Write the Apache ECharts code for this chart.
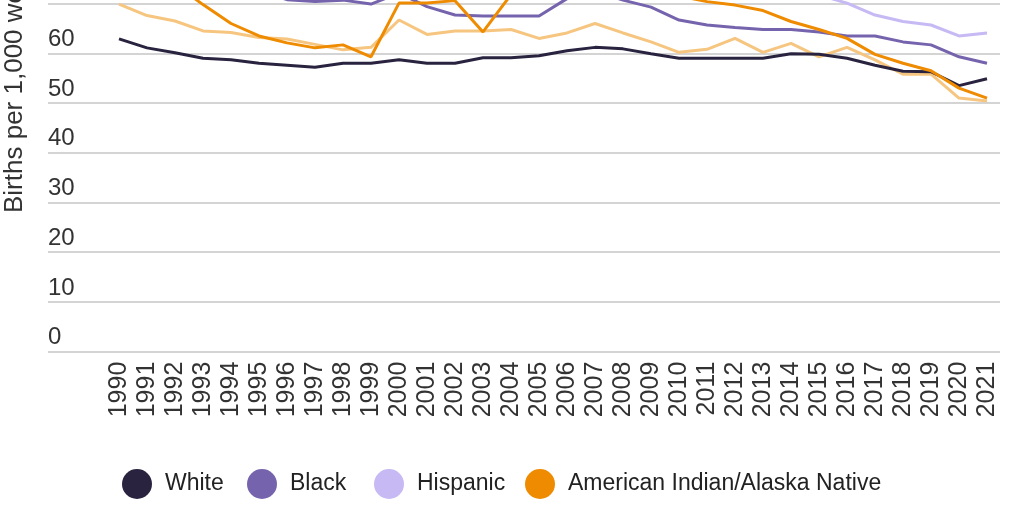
<!DOCTYPE html>
<html>
<head>
<meta charset="utf-8">
<script src="https://cdn.jsdelivr.net/npm/echarts@6/dist/echarts.min.js"></script>
<style>
html,body{margin:0;padding:0;background:#fff;width:1024px;height:512px;overflow:hidden;position:relative;}
#c{position:absolute;left:0;top:-200px;width:1024px;height:712px;}
</style>
</head>
<body>
<div id="c"></div>
<script>
const years = ['1990','1991','1992','1993','1994','1995','1996','1997','1998','1999','2000','2001','2002','2003','2004','2005','2006','2007','2008','2009','2010','2011','2012','2013','2014','2015','2016','2017','2018','2019','2020','2021'];
const white = [62.9,61.1,60.1,59.0,58.7,58.0,57.6,57.2,58.0,58.0,58.7,58.0,58.0,59.1,59.1,59.5,60.5,61.2,60.9,59.9,59.0,59.0,59.0,59.0,59.9,59.8,59.0,57.6,56.4,56.3,53.5,54.9];
const black = [86.8,85.2,82.4,79.1,75.6,72.4,70.8,70.4,70.7,69.9,72.1,69.4,67.7,67.5,67.5,67.5,71.0,72.5,70.7,69.3,66.7,65.7,65.2,64.8,64.8,64.3,63.5,63.5,62.3,61.7,59.3,58.0];
const hispanic = [107.7,108.1,106.1,103.3,100.7,98.8,97.5,97.7,98.4,99.4,95.9,97.6,94.4,96.9,97.8,99.4,101.5,102.2,98.8,93.3,80.2,76.2,74.4,72.9,72.1,71.7,70.1,67.7,66.4,65.7,63.5,64.1];
const aian = [76.2,75.1,73.9,69.8,66.0,63.5,62.1,61.1,61.7,59.3,70.1,70.1,70.6,64.3,71.8,72.4,73.8,74.6,73.2,72.6,71.5,70.4,69.7,68.6,66.4,64.8,63.0,59.8,58.0,56.5,53.0,51.0];
const asianPI = [69.9,67.6,66.5,64.5,64.2,63.2,62.9,61.8,60.7,61.2,66.7,63.8,64.5,64.5,64.8,63.0,64.1,66.0,64.1,62.3,60.2,60.8,63.0,60.2,62.0,59.3,61.2,58.7,55.8,55.8,51.0,50.4];
const yTitle = 'Births per 1,000 women ages 15–44';

const colors = {
  'White': '#29233f',
  'Black': '#7564ad',
  'Hispanic': '#c6b9f4',
  'American Indian/Alaska Native': '#ee8b00',
  'Asian/Pacific Islander': '#f6c680'
};
const FONT = '"Liberation Sans", Arial, sans-serif';
const OFF = 200; // container is shifted up by this many px
const chart = echarts.init(document.getElementById('c'), null, {renderer: 'canvas'});
const gridTop = OFF - 195.3, gridBottom = 160.3;
function mkSeries(name, data, z) {
  return {
    name: name, type: 'line', data: data, xAxisIndex: 1, yAxisIndex: 1,
    symbol: 'none', z: z,
    lineStyle: {color: colors[name], width: 3},
    itemStyle: {color: colors[name]}
  };
}
function mkLegend(name, left) {
  return {
    data: [name], left: left, top: OFF + 464, itemWidth: 30, itemHeight: 30,
    icon: 'circle', itemGap: 0,
    textStyle: {fontFamily: FONT, fontSize: 23, color: '#222', padding: [0, 0, 0, 8]}
  };
}
chart.setOption({
  animation: false,
  backgroundColor: '#fff',
  grid: [
    {left: 48, right: 24, top: gridTop, bottom: gridBottom, outerBoundsMode: 'none', containLabel: false},
    {left: 119, right: 37, top: gridTop, bottom: gridBottom, outerBoundsMode: 'none', containLabel: false}
  ],
  xAxis: [
    {gridIndex: 0, type: 'category', data: years, show: false},
    {gridIndex: 1, type: 'category', data: years, boundaryGap: false,
     axisLine: {show: false}, axisTick: {show: false}, splitLine: {show: false},
     axisLabel: {rotate: 90, interval: 0, margin: 10, fontFamily: FONT, fontSize: 25, color: '#333'}}
  ],
  yAxis: [
    {gridIndex: 0, type: 'value', min: 0, max: 110, interval: 10,
     axisLine: {show: false}, axisTick: {show: false},
     splitLine: {lineStyle: {color: '#d4d4d4', width: 2}},
     axisLabel: {align: 'left', verticalAlign: 'bottom', margin: 0, padding: [0, 0, 2, 0],
                 fontFamily: FONT, fontSize: 24, color: '#333'}},
    {gridIndex: 1, type: 'value', min: 0, max: 110, interval: 10, show: false, splitLine: {show: false}}
  ],
  legend: [
    mkLegend('White', 117),
    mkLegend('Black', 242),
    mkLegend('Hispanic', 369),
    mkLegend('American Indian/Alaska Native', 520)
  ],
  graphic: [{
    type: 'text', x: 15, y: OFF + 213, rotation: Math.PI / 2,
    style: {text: yTitle, fontFamily: FONT, fontSize: 26, fill: '#333', textAlign: 'left', textVerticalAlign: 'middle'}
  }],
  series: [
    mkSeries('Asian/Pacific Islander', asianPI, 2),
    mkSeries('Hispanic', hispanic, 3),
    mkSeries('Black', black, 4),
    mkSeries('White', white, 5),
    mkSeries('American Indian/Alaska Native', aian, 6)
  ]
});
</script>
</body>
</html>
